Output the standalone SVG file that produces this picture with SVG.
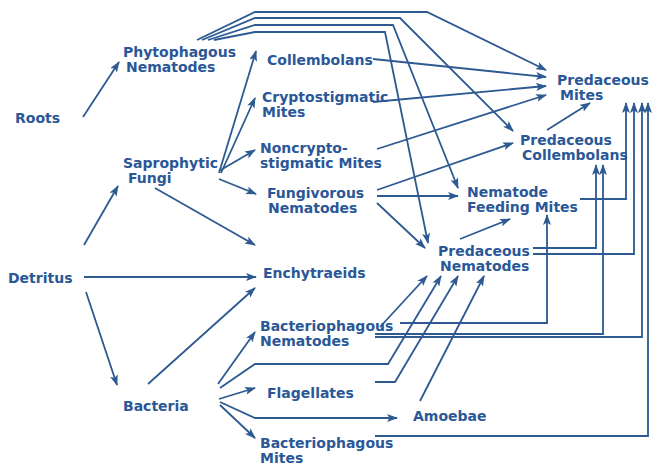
<svg xmlns="http://www.w3.org/2000/svg" width="654" height="465" viewBox="0 0 654 465">
<defs>
<marker id="ah" markerWidth="11" markerHeight="8" refX="10" refY="4" orient="auto" markerUnits="userSpaceOnUse">
<path d="M0,0 L11,4 L0,8 L2.5,4 z" fill="#2d5a91"/>
</marker>
<style>
text{font-family:"DejaVu Sans","Liberation Sans",sans-serif;font-weight:bold;font-size:14px;fill:#2a5797}
.c path{fill:none;stroke:#2d5a91;stroke-width:1.8;marker-end:url(#ah)}
</style>
</defs>
<rect width="654" height="465" fill="#fff"/>
<g class="c" id="connectors">
<path d="M83,117 L119,62"/>
<path d="M84,245 L118,186"/>
<path d="M84,277 L256,277"/>
<path d="M86,292 L117,385"/>
<path d="M219,173 L256,51"/>
<path d="M221,173 L255,98"/>
<path d="M219,171 L255,150"/>
<path d="M219,179 L256,194"/>
<path d="M155,188 L255,245"/>
<path d="M148,384 L255,288"/>
<path d="M218,384 L255,332"/>
<path d="M219,399 L255,388"/>
<path d="M220,402 L255,418 L397,418"/>
<path d="M220,405 L255,438"/>
<path d="M220,388 L255,364 L388,364 L441,276"/>
<path d="M375,382 L395,382 L458,276"/>
<path d="M420,401 L484,276"/>
<path d="M380,327 L427,276"/>
<path d="M400,323 L547,323 L547,215"/>
<path d="M375,334 L603,334 L603,165"/>
<path d="M375,337 L642,337 L642,103"/>
<path d="M375,436 L648,436 L648,103"/>
<path d="M533,248 L596,248 L596,165"/>
<path d="M533,254 L634,254 L634,103"/>
<path d="M580,199 L626,199 L626,103"/>
<path d="M460,239 L510,219"/>
<path d="M547,130 L590,103"/>
<path d="M377,190 L513,143"/>
<path d="M377,196 L458,196"/>
<path d="M377,203 L425,248"/>
<path d="M373,102 L546,86"/>
<path d="M373,59 L546,77"/>
<path d="M377,149 L546,95"/>
<path d="M197,40 L255,12 L427,12 L546,70"/>
<path d="M202,40 L255,18 L400,18 L513,131"/>
<path d="M208,40 L255,25 L393,25 L458,188"/>
<path d="M214,40 L255,32 L385,32 L428,243"/>
</g>
<g id="roots"><text x="15" y="123">Roots</text></g>
<g id="detritus"><text x="8" y="283">Detritus</text></g>
<g id="phytophagous-nematodes"><text x="123" y="56.5">Phytophagous</text><text x="126" y="71.5">Nematodes</text></g>
<g id="saprophytic-fungi"><text x="123" y="167.5">Saprophytic</text><text x="128" y="183">Fungi</text></g>
<g id="bacteria"><text x="123" y="411">Bacteria</text></g>
<g id="collembolans"><text x="267" y="65">Collembolans</text></g>
<g id="cryptostigmatic-mites"><text x="262" y="101.5">Cryptostigmatic</text><text x="262" y="116.5">Mites</text></g>
<g id="noncryptostigmatic-mites"><text x="260" y="152.5">Noncrypto-</text><text x="260" y="167.5">stigmatic Mites</text></g>
<g id="fungivorous-nematodes"><text x="267" y="197.5">Fungivorous</text><text x="268" y="212.5">Nematodes</text></g>
<g id="enchytraeids"><text x="263" y="278">Enchytraeids</text></g>
<g id="bacteriophagous-nematodes"><text x="260" y="330.5">Bacteriophagous</text><text x="260" y="345.5">Nematodes</text></g>
<g id="flagellates"><text x="267" y="398">Flagellates</text></g>
<g id="amoebae"><text x="413" y="421">Amoebae</text></g>
<g id="bacteriophagous-mites"><text x="260" y="447.5">Bacteriophagous</text><text x="260" y="462.5">Mites</text></g>
<g id="predaceous-mites"><text x="557" y="84.5">Predaceous</text><text x="560" y="99.5">Mites</text></g>
<g id="predaceous-collembolans"><text x="520" y="144.5">Predaceous</text><text x="522" y="159.5">Collembolans</text></g>
<g id="nematode-feeding-mites"><text x="467" y="196.5">Nematode</text><text x="467" y="211.5">Feeding Mites</text></g>
<g id="predaceous-nematodes"><text x="438" y="255.5">Predaceous</text><text x="440" y="270.5">Nematodes</text></g>
</svg>
